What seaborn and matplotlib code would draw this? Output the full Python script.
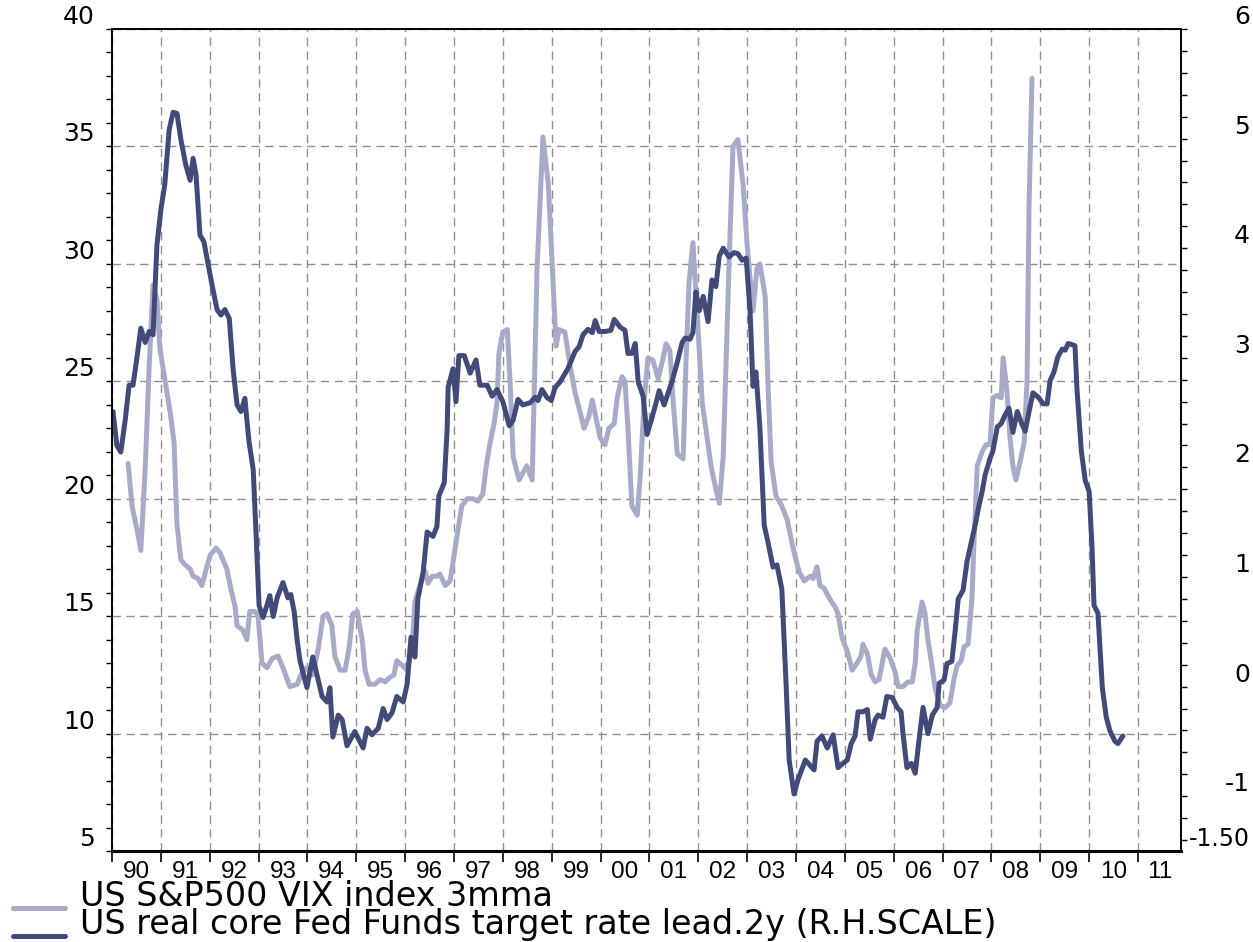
import matplotlib
matplotlib.use("Agg")
import matplotlib.pyplot as plt
from matplotlib.lines import Line2D
from matplotlib.ticker import MultipleLocator, FixedLocator, FuncFormatter
import pandas as pd
import seaborn as sns

# US S&P500 VIX index, 3mma (left scale)
vix_dates = [1990.33, 1990.41, 1990.51, 1990.59, 1990.68, 1990.76, 1990.84, 1990.92, 1990.98,
             1991.08, 1991.19, 1991.27, 1991.33, 1991.41, 1991.49, 1991.60, 1991.66, 1991.76,
             1991.84, 1991.94, 1992.01, 1992.13, 1992.21, 1992.35, 1992.44, 1992.52, 1992.56,
             1992.68, 1992.76, 1992.82, 1992.93, 1992.99, 1993.07, 1993.17, 1993.28, 1993.40,
             1993.50, 1993.64, 1993.79, 1993.89, 1993.99, 1994.11, 1994.22, 1994.32, 1994.40,
             1994.50, 1994.56, 1994.67, 1994.77, 1994.85, 1994.93, 1995.02, 1995.12, 1995.18,
             1995.26, 1995.38, 1995.49, 1995.59, 1995.69, 1995.77, 1995.83, 1995.94, 1996.04,
             1996.14, 1996.20, 1996.30, 1996.41, 1996.47, 1996.55, 1996.65, 1996.71, 1996.82,
             1996.92, 1996.98, 1997.06, 1997.16, 1997.27, 1997.39, 1997.49, 1997.59, 1997.66,
             1997.74, 1997.82, 1997.88, 1997.92, 1998.00, 1998.09, 1998.15, 1998.21, 1998.33,
             1998.41, 1998.49, 1998.60, 1998.70, 1998.82, 1998.93, 1999.03, 1999.09, 1999.15,
             1999.27, 1999.38, 1999.48, 1999.58, 1999.66, 1999.76, 1999.83, 1999.91, 1999.99,
             2000.09, 2000.17, 2000.28, 2000.34, 2000.44, 2000.50, 2000.56, 2000.64, 2000.75,
             2000.81, 2000.89, 2000.97, 2001.07, 2001.18, 2001.28, 2001.34, 2001.42, 2001.48,
             2001.57, 2001.69, 2001.75, 2001.81, 2001.89, 2001.98, 2002.08, 2002.18, 2002.26,
             2002.34, 2002.43, 2002.51, 2002.57, 2002.63, 2002.71, 2002.81, 2002.92, 2003.00,
             2003.12, 2003.20, 2003.26, 2003.37, 2003.43, 2003.49, 2003.59, 2003.71, 2003.82,
             2003.94, 2004.06, 2004.17, 2004.29, 2004.35, 2004.43, 2004.49, 2004.57, 2004.70,
             2004.80, 2004.86, 2004.94, 2005.05, 2005.15, 2005.25, 2005.33, 2005.37, 2005.46,
             2005.54, 2005.62, 2005.70, 2005.82, 2005.93, 2006.03, 2006.09, 2006.19, 2006.29,
             2006.38, 2006.44, 2006.48, 2006.58, 2006.64, 2006.70, 2006.79, 2006.85, 2006.95,
             2007.05, 2007.15, 2007.24, 2007.30, 2007.38, 2007.44, 2007.52, 2007.60, 2007.65,
             2007.71, 2007.81, 2007.89, 2007.97, 2008.03, 2008.12, 2008.20, 2008.24, 2008.32,
             2008.38, 2008.44, 2008.50, 2008.59, 2008.67, 2008.73, 2008.77, 2008.83]
vix_values = [21.5, 19.7, 18.7, 17.8, 21.3, 25.6, 29.1, 28.5, 26.4,
              25.1, 23.7, 22.4, 18.9, 17.4, 17.2, 17.0, 16.7, 16.6,
              16.3, 17.1, 17.6, 17.9, 17.7, 17.0, 16.1, 15.4, 14.6,
              14.4, 14.0, 15.2, 15.2, 15.0, 13.0, 12.8, 13.2, 13.3,
              12.8, 12.0, 12.1, 12.6, 12.8, 12.5, 13.6, 15.0, 15.1,
              14.6, 13.3, 12.7, 12.7, 13.6, 15.1, 15.2, 14.0, 12.7,
              12.1, 12.1, 12.3, 12.2, 12.4, 12.5, 13.1, 12.9, 12.7,
              13.6, 15.6, 16.3, 16.9, 16.4, 16.7, 16.7, 16.8, 16.3,
              16.5, 17.3, 18.4, 19.7, 20.0, 20.0, 19.9, 20.2, 21.4,
              22.4, 23.2, 24.1, 26.2, 27.1, 27.2, 24.9, 21.8, 20.8,
              21.1, 21.4, 20.8, 29.8, 35.4, 33.4, 29.1, 26.5, 27.2,
              27.1, 25.6, 24.5, 23.7, 23.0, 23.5, 24.2, 23.4, 22.6,
              22.3, 23.0, 23.2, 24.3, 25.2, 25.0, 23.0, 19.7, 19.3,
              20.9, 24.1, 26.0, 25.9, 25.1, 26.0, 26.6, 26.3, 24.3,
              21.9, 21.7, 25.9, 29.2, 30.9, 27.8, 24.1, 22.6, 21.4,
              20.6, 19.8, 21.8, 25.9, 30.0, 35.0, 35.3, 33.3, 30.8,
              28.0, 29.8, 30.0, 28.6, 24.7, 21.6, 20.1, 19.7, 19.1,
              17.9, 16.9, 16.5, 16.7, 16.6, 17.1, 16.3, 16.2, 15.7,
              15.4, 15.1, 14.1, 13.5, 12.7, 13.0, 13.3, 13.8, 13.4,
              12.5, 12.2, 12.3, 13.6, 13.2, 12.6, 12.0, 12.0, 12.2,
              12.2, 13.0, 14.4, 15.6, 15.1, 14.0, 12.8, 11.9, 11.2,
              11.1, 11.3, 12.4, 12.9, 13.1, 13.7, 13.8, 15.7, 18.5,
              21.4, 22.0, 22.3, 22.3, 24.3, 24.4, 24.3, 26.0, 24.5,
              22.6, 21.4, 20.8, 21.6, 22.4, 25.1, 32.5, 37.9]

# US real core Fed Funds target rate, lead 2y (right scale)
ff_dates = [1990.02, 1990.10, 1990.18, 1990.27, 1990.35, 1990.43, 1990.51, 1990.59, 1990.68,
            1990.76, 1990.84, 1990.92, 1991.00, 1991.08, 1991.17, 1991.25, 1991.33, 1991.41,
            1991.51, 1991.60, 1991.66, 1991.72, 1991.80, 1991.88, 1991.97, 1992.05, 1992.15,
            1992.23, 1992.31, 1992.40, 1992.48, 1992.56, 1992.64, 1992.72, 1992.80, 1992.89,
            1992.95, 1993.01, 1993.09, 1993.17, 1993.23, 1993.30, 1993.38, 1993.50, 1993.60,
            1993.66, 1993.73, 1993.79, 1993.85, 1993.99, 1994.11, 1994.30, 1994.40, 1994.46,
            1994.52, 1994.63, 1994.71, 1994.81, 1994.97, 1995.14, 1995.22, 1995.32, 1995.45,
            1995.55, 1995.63, 1995.73, 1995.83, 1995.96, 1996.04, 1996.12, 1996.20, 1996.26,
            1996.37, 1996.45, 1996.57, 1996.65, 1996.69, 1996.80, 1996.86, 1996.88, 1996.98,
            1997.04, 1997.10, 1997.21, 1997.33, 1997.45, 1997.53, 1997.68, 1997.78, 1997.88,
            1998.00, 1998.13, 1998.21, 1998.31, 1998.41, 1998.56, 1998.66, 1998.72, 1998.80,
            1998.90, 1998.99, 1999.07, 1999.17, 1999.33, 1999.48, 1999.56, 1999.64, 1999.74,
            1999.83, 1999.89, 1999.97, 2000.09, 2000.21, 2000.28, 2000.40, 2000.50, 2000.56,
            2000.64, 2000.71, 2000.77, 2000.87, 2000.95, 2001.05, 2001.16, 2001.20, 2001.30,
            2001.46, 2001.57, 2001.67, 2001.73, 2001.83, 2001.89, 2001.95, 2002.02, 2002.10,
            2002.20, 2002.28, 2002.36, 2002.43, 2002.51, 2002.63, 2002.73, 2002.81, 2002.90,
            2002.98, 2003.06, 2003.12, 2003.18, 2003.26, 2003.35, 2003.43, 2003.53, 2003.61,
            2003.71, 2003.80, 2003.86, 2003.96, 2004.04, 2004.19, 2004.29, 2004.37, 2004.43,
            2004.53, 2004.64, 2004.76, 2004.86, 2004.96, 2005.05, 2005.13, 2005.21, 2005.27,
            2005.37, 2005.46, 2005.52, 2005.62, 2005.68, 2005.78, 2005.86, 2005.97, 2006.07,
            2006.15, 2006.19, 2006.27, 2006.36, 2006.44, 2006.52, 2006.60, 2006.70, 2006.79,
            2006.89, 2006.93, 2007.03, 2007.09, 2007.19, 2007.26, 2007.32, 2007.42, 2007.50,
            2007.56, 2007.67, 2007.73, 2007.81, 2007.87, 2007.97, 2008.03, 2008.12, 2008.20,
            2008.28, 2008.36, 2008.44, 2008.53, 2008.61, 2008.69, 2008.77, 2008.85, 2008.96,
            2009.06, 2009.14, 2009.20, 2009.28, 2009.36, 2009.45, 2009.51, 2009.57, 2009.65,
            2009.71, 2009.75, 2009.84, 2009.92, 2010.00, 2010.06, 2010.10, 2010.18, 2010.27,
            2010.35, 2010.43, 2010.53, 2010.59, 2010.69]
ff_values = [2.51, 2.20, 2.14, 2.43, 2.75, 2.75, 3.00, 3.27, 3.14,
             3.24, 3.21, 4.03, 4.35, 4.58, 5.08, 5.24, 5.23, 4.99,
             4.76, 4.62, 4.82, 4.67, 4.12, 4.06, 3.85, 3.66, 3.44,
             3.39, 3.44, 3.36, 2.89, 2.57, 2.51, 2.63, 2.25, 1.98,
             1.38, 0.74, 0.63, 0.74, 0.83, 0.64, 0.81, 0.95, 0.81,
             0.84, 0.68, 0.42, 0.23, -0.01, 0.27, -0.09, -0.14, -0.01,
             -0.46, -0.26, -0.30, -0.54, -0.41, -0.56, -0.38, -0.44, -0.38,
             -0.20, -0.30, -0.24, -0.09, -0.14, 0.02, 0.45, 0.27, 0.80,
             1.05, 1.41, 1.37, 1.46, 1.74, 1.86, 2.35, 2.73, 2.90,
             2.60, 3.02, 3.02, 2.86, 2.98, 2.75, 2.75, 2.65, 2.71,
             2.60, 2.38, 2.43, 2.62, 2.57, 2.59, 2.64, 2.61, 2.71,
             2.64, 2.61, 2.73, 2.78, 2.90, 3.06, 3.10, 3.21, 3.26,
             3.23, 3.34, 3.24, 3.24, 3.25, 3.35, 3.28, 3.25, 3.04,
             3.04, 3.13, 2.78, 2.65, 2.30, 2.45, 2.63, 2.70, 2.57,
             2.78, 2.96, 3.14, 3.18, 3.17, 3.23, 3.60, 3.43, 3.56,
             3.33, 3.71, 3.65, 3.93, 4.00, 3.92, 3.96, 3.95, 3.89,
             3.91, 3.43, 2.74, 2.87, 2.37, 1.47, 1.31, 1.09, 1.11,
             0.89, -0.01, -0.67, -0.98, -0.85, -0.67, -0.72, -0.76, -0.50,
             -0.45, -0.56, -0.44, -0.74, -0.70, -0.67, -0.52, -0.45, -0.23,
             -0.23, -0.21, -0.48, -0.30, -0.26, -0.28, -0.09, -0.10, -0.19,
             -0.23, -0.43, -0.74, -0.70, -0.79, -0.48, -0.19, -0.43, -0.26,
             -0.19, 0.03, 0.06, 0.21, 0.23, 0.52, 0.80, 0.88, 1.14,
             1.26, 1.48, 1.62, 1.78, 1.93, 2.08, 2.15, 2.37, 2.40,
             2.48, 2.54, 2.32, 2.51, 2.41, 2.33, 2.51, 2.68, 2.64,
             2.58, 2.58, 2.79, 2.87, 3.01, 3.08, 3.07, 3.13, 3.12,
             3.11, 2.72, 2.15, 1.88, 1.78, 1.26, 0.74, 0.67, -0.01,
             -0.28, -0.41, -0.50, -0.52, -0.45]

years = list(range(1990, 2012))
year_labels = ['90', '91', '92', '93', '94', '95', '96', '97', '98', '99', '00',
               '01', '02', '03', '04', '05', '06', '07', '08', '09', '10', '11']

LIGHT = '#a8abc8'
DARK = '#414a78'
GRID = '#8f8f8f'
XMAX = 2011.88

sns.set_style("white")
plt.rcParams['font.family'] = ['DejaVu Sans']
plt.rcParams['text.color'] = 'black'
plt.rcParams['xtick.color'] = 'black'
plt.rcParams['ytick.color'] = 'black'
plt.rcParams['axes.labelcolor'] = 'black'

fig = plt.figure(figsize=(12.53, 9.42), dpi=100)
ax = fig.add_axes([112 / 1253, 1 - 851 / 942, (1181 - 112) / 1253, (851 - 29) / 942])
ax2 = ax.twinx()

vix = pd.DataFrame({'date': vix_dates, 'value': vix_values})
ff = pd.DataFrame({'date': ff_dates, 'value': ff_values})

sns.lineplot(data=vix, x='date', y='value', ax=ax, color=LIGHT, linewidth=3.6,
             estimator=None, sort=False, solid_joinstyle='round')
sns.lineplot(data=ff, x='date', y='value', ax=ax2, color=DARK, linewidth=3.6,
             estimator=None, sort=False, solid_joinstyle='round')

# left scale
ax.set_xlim(1990, XMAX)
ax.set_ylim(5, 40)
ax.yaxis.set_major_locator(MultipleLocator(5))
ax.yaxis.set_minor_locator(MultipleLocator(1))
ax.tick_params(axis='y', which='both', direction='out', length=4.5, width=1,
               color='black', labelcolor='black', labelsize=18, pad=8, left=True)
for lab in ax.get_yticklabels():
    lab.set_verticalalignment('bottom')

# x axis: ticks at year boundaries, labels in the middle of each year
ax.xaxis.set_major_locator(FixedLocator(years))
ax.set_xticklabels([])
mids = [min(y + 0.5, (y + XMAX) / 2) for y in years]
ax.xaxis.set_minor_locator(FixedLocator(mids))
ax.set_xticklabels(year_labels, minor=True)
ax.tick_params(axis='x', which='major', direction='out', length=8, width=1.2,
               color='black', bottom=True)
ax.tick_params(axis='x', which='minor', length=0, pad=7, labelsize=17.5, labelcolor='black')
for lab in ax.get_xticklabels(minor=True):
    lab.set_fontfamily('Liberation Sans')

ax.grid(True, which='major', axis='both', color=GRID, linestyle=(0, (6, 4)), linewidth=1)
ax.set_xlabel('')
ax.set_ylabel('')

# right scale
ax2.set_ylim(-1.5, 6)
ax2.yaxis.set_major_locator(MultipleLocator(1))
ax2.yaxis.set_minor_locator(MultipleLocator(0.2))
ax2.yaxis.set_major_formatter(FuncFormatter(lambda v, p: f'{v:.0f}'))
ax2.tick_params(axis='y', which='both', direction='out', length=4.5, width=1,
                color='black', labelcolor='black', labelsize=18, pad=45, right=True)
for lab in ax2.get_yticklabels():
    lab.set_horizontalalignment('right')
    lab.set_verticalalignment('bottom')
ax2.annotate('-1.50', xy=(1, -1.5), xycoords=('axes fraction', 'data'),
             xytext=(6, 0), textcoords='offset points', ha='left', va='bottom',
             fontsize=17, color='black')
ax2.set_ylabel('')
ax2.grid(False)

for a in (ax, ax2):
    for side in ('left', 'right', 'top'):
        a.spines[side].set_color('black')
        a.spines[side].set_linewidth(1.2)
    a.spines['bottom'].set_color('black')
    a.spines['bottom'].set_linewidth(2.2)

# legend below the plot
fig.add_artist(Line2D([13 / 1253, 65 / 1253], [1 - 908 / 942] * 2, color=LIGHT,
                      linewidth=3.6, transform=fig.transFigure))
fig.add_artist(Line2D([13 / 1253, 65 / 1253], [1 - 936 / 942] * 2, color=DARK,
                      linewidth=3.6, transform=fig.transFigure))
fig.text(80 / 1253, 1 - 906 / 942, 'US S&P500 VIX index 3mma', fontsize=24,
         va='baseline', ha='left', color='black')
fig.text(80 / 1253, 1 - 934 / 942, 'US real core Fed Funds target rate lead.2y (R.H.SCALE)',
         fontsize=24, va='baseline', ha='left', color='black')

plt.savefig('out.png', dpi=100)
plt.close()
